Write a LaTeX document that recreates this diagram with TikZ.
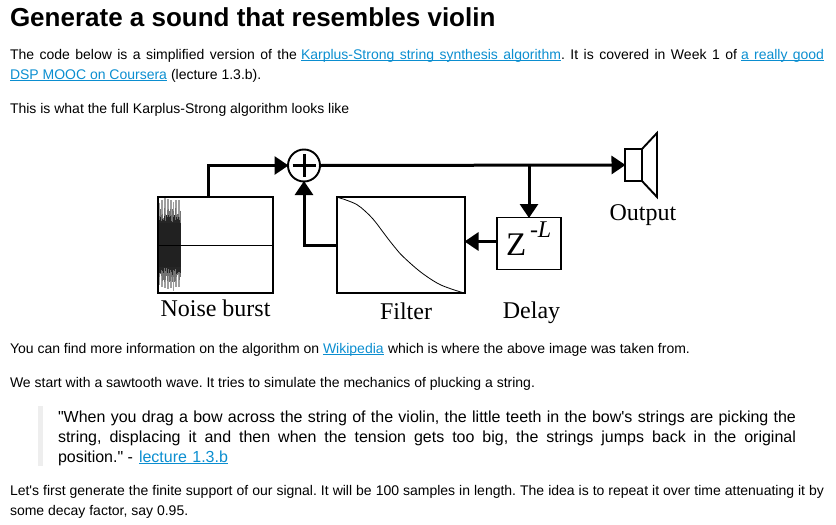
\documentclass[tikz,border=0pt]{standalone}
\usepackage{fontspec}
\usetikzlibrary{arrows.meta,calc}
\newfontfamily\bodyfont{Liberation Sans}
\newfontfamily\seriffont{Liberation Serif}
\definecolor{linkblue}{HTML}{0B8ED0}
\definecolor{quotebar}{HTML}{EEEEEE}
\frenchspacing
\newcommand{\jbox}[2]{\makebox[#1pt][s]{#2}}
\newcommand{\lnk}[2]{\textcolor{linkblue}{\makebox[#1pt][s]{#2}\llap{\rule[-2.4pt]{#1pt}{1pt}}}}
\tikzset{
  every node/.style={inner sep=0pt,outer sep=0pt},
  txt/.style={anchor=base west,font=\bodyfont\fontsize{14}{17}\selectfont,text=black},
  quotetxt/.style={anchor=base west,font=\bodyfont\fontsize{16}{19}\selectfont,text=black},
  headtxt/.style={anchor=base west,font=\bodyfont\bfseries\fontsize{26}{30}\selectfont,text=black},
  boxnode/.style={draw=black,line width=1.9pt,rectangle},
  diag/.style={anchor=base,font=\seriffont\fontsize{24}{28}\selectfont,text=black},
  flow/.style={draw=black,line width=3pt,-{Triangle[length=14pt,width=18pt]},shorten >=-0.5pt},
  speaker/.style={draw=black,line width=1.9pt,line join=miter}
}
\begin{document}
\begin{tikzpicture}[x=1pt,y=-1pt]
\useasboundingbox (0,0) rectangle (836,525);
% texts
\node[headtxt] (title) at (10,26.5) {Generate a sound that resembles violin};
\node[txt] (p1a) at (10,59) {\jbox{287}{The code below is a simplified version of the}};
\node[txt] (p1b) at (301,59) {\lnk{260}{Karplus-Strong string synthesis algorithm}};
\node[txt] (p1c) at (561,59) {\jbox{176}{. It is covered in Week 1 of}};
\node[txt] (p1d) at (741,59) {\lnk{83}{a really good}};
\node[txt] (p2a) at (10,79) {\lnk{157}{DSP MOOC on Coursera}};
\node[txt] (p2b) at (171,79) {(lecture 1.3.b).};
\node[txt] (p3) at (10,113) {This is what the full Karplus-Strong algorithm looks like};
\node[txt] (p4a) at (10,353) {You can find more information on the algorithm on};
\node[txt] (p4b) at (323,353) {\lnk{61}{Wikipedia}};
\node[txt] (p4c) at (388,353) {which is where the above image was taken from.};
\node[txt] (p5) at (10,387) {We start with a sawtooth wave. It tries to simulate the mechanics of plucking a string.};
\fill[quotebar] (38,406) rectangle (43,466);
\node[quotetxt] (q1) at (58,422) {\jbox{738}{"When you drag a bow across the string of the violin, the little teeth in the bow's strings are picking the}};
\node[quotetxt] (q2) at (58,442) {\jbox{738}{string, displacing it and then when the tension gets too big, the strings jumps back in the original}};
\node[quotetxt] (q3a) at (58,462) {position." -};
\node[quotetxt] (q3b) at (139,462) {\lnk{89}{lecture 1.3.b}};
\node[txt] (p6a) at (10,495) {\jbox{814}{Let's first generate the finite support of our signal. It will be 100 samples in length. The idea is to repeat it over time attenuating it by}};
\node[txt] (p6b) at (10,515) {some decay factor, say 0.95.};
% noise waveform
\pgfmathsetseed{11}
\foreach \i in {0,...,7}{
  \pgfmathsetmacro{\xx}{159.2+\i*2.85}
  \pgfmathsetmacro{\ta}{198+rnd*7}
  \pgfmathsetmacro{\tb}{292-rnd*7}
  \draw[color=black!38,line width=1.9pt] (\xx,\ta) -- (\xx,\tb);
}
\foreach \i in {0,...,22}{
  \pgfmathsetmacro{\xx}{158.5+\i*0.98}
  \pgfmathsetmacro{\ta}{207+rnd*12}
  \pgfmathsetmacro{\tb}{283-rnd*12}
  \draw[color=black!55,line width=1pt] (\xx,\ta) -- (\xx,\tb);
}
\foreach \i in {0,...,22}{
  \pgfmathsetmacro{\xx}{158.5+\i*0.98}
  \pgfmathsetmacro{\ta}{215+rnd*8}
  \pgfmathsetmacro{\tb}{275-rnd*8}
  \draw[color=black!85,line width=1pt] (\xx,\ta) -- (\xx,\tb);
}
\fill[black!87] (158,223) rectangle (180.5,267);
% boxes
\node[boxnode,minimum width=115pt,minimum height=96pt] (noise) at (215.5,245) {};
\draw[black,line width=0.9pt] (noise.west) -- (noise.east);
\node[boxnode,minimum width=128pt,minimum height=96pt] (filter) at (401,245) {};
\node[boxnode,minimum width=64pt,minimum height=52pt] (delay) at (529,243.5) {};
\node[draw=black,line width=1.9pt,circle,minimum size=32pt] (sum) at (304,165.5) {};
\node[boxnode,minimum width=17pt,minimum height=32pt] (spk) at (633.5,165) {};
\draw[speaker] (spk.north east) -- (657,133) -- (657,197) -- (spk.south east);
\draw[black,line width=3pt] ($(sum.center)+(-11.5,0)$) -- ($(sum.center)+(11.5,0)$);
\draw[black,line width=3pt] ($(sum.center)+(0,-11.5)$) -- ($(sum.center)+(0,11.5)$);
% filter response
\draw[black,line width=0.8pt] plot[smooth,tension=0.6] coordinates {(338,197.5) (346,200) (356.7,204.5) (365,211) (373,219) (380,228) (386.7,237) (395,247.5) (403,256.5) (420,271.5) (437,283) (450,288.5) (464,293)};
% connectors
\coordinate (junction) at (delay.north |- sum.east);
\draw[flow] ([xshift=-7pt]noise.north) |- (sum.west);
\draw[flow] (sum.east) -- (spk.west);
\draw[flow] (junction) -- (delay.north);
\draw[flow] ([yshift=2pt]delay.west) -- ([yshift=2pt]delay.west -| filter.east);
\draw[flow] (filter.west) -| (sum.south);
% labels
\node[diag] (lnoise) at (215.5,316.5) {Noise burst};
\node[diag] (lfilter) at (406,319) {Filter};
\node[diag] (ldelay) at (531.5,318.5) {Delay};
\node[diag] (loutput) at (643,220) {Output};
\node[anchor=base west,font=\seriffont\fontsize{33}{36}\selectfont] (zed) at (506,255) {Z};
\node[anchor=base west,font=\seriffont\itshape\fontsize{24}{26}\selectfont] (exponent) at (530,237) {-L};
\end{tikzpicture}
\end{document}
